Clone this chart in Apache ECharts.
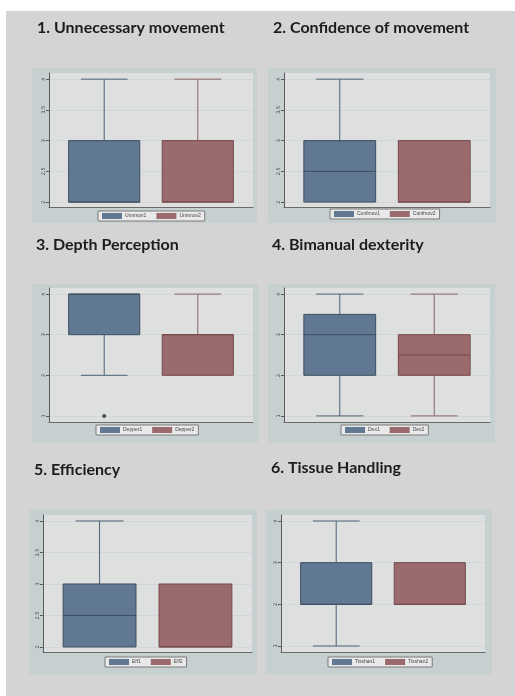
<!DOCTYPE html>
<html>
<head>
<meta charset="utf-8">
<script src="https://cdn.jsdelivr.net/npm/echarts@6/dist/echarts.min.js"></script>
<style>
  html, body { margin: 0; padding: 0; background: #fff; }
  #main { width: 515px; height: 696px; }
</style>
</head>
<body>
<div id="main"></div>
<script>
// panel titles
var titles = ['1. Unnecessary movement', '2. Confidence of movement', '3. Depth Perception',
  '4. Bimanual dexterity', '5. Efficiency', '6. Tissue Handling']
// legend names, two variables per panel
var names = [['Unnmov1', 'Unnmov2'], ['Confmov1', 'Confmov2'], ['Depper1', 'Depper2'],
  ['Dex1', 'Dex2'], ['Eff1', 'Eff2'], ['Tisshan1', 'Tisshan2']]
// box stats: [x, min, Q1, median, Q3, max]
var boxes1 = [[1, 2, 2, 2, 3, 4], [1, 2, 2, 2.5, 3, 4], [1, 2, 3, 4, 4, 4],
  [1, 1, 2, 3, 3.5, 4], [1, 2, 2, 2.5, 3, 4], [1, 1, 2, 2, 3, 4]]
var boxes2 = [[2, 2, 2, 2, 3, 4], [2, 2, 2, 2, 3, 3], [2, 2, 2, 3, 3, 4],
  [2, 1, 2, 2.5, 3, 4], [2, 2, 2, 2, 3, 3], [2, 2, 2, 2, 3, 3]]
// outside values (panel index, x, y)
var outliers = [[2, 1, 1]]
// y tick labels per panel
var ticksHalf = [2, 2.5, 3, 3.5, 4]
var ticksOne = [1, 2, 3, 4]
var yTicks = [ticksHalf, ticksHalf, ticksOne, ticksOne, ticksHalf, ticksOne]
var yMin = [1.92, 1.92, 0.85, 0.85, 1.92, 0.856]
var yMax = [4.1, 4.1, 4.15, 4.15, 4.095, 4.144]

// layout of each panel
var grids = [
  {left: 49, top: 73, width: 204, height: 134},
  {left: 284, top: 73, width: 206, height: 134},
  {left: 49, top: 288, width: 204, height: 134},
  {left: 284, top: 288, width: 206, height: 134},
  {left: 43, top: 515, width: 209, height: 137},
  {left: 281, top: 515, width: 204, height: 137}
]
var frames = [[32, 68, 225, 155], [268, 68, 228, 155], [32, 284, 226, 159],
  [268, 284, 227, 159], [29, 510, 228, 165], [266, 510, 226, 164]]
var titlePos = [[37, 20], [273, 20], [36, 237], [272, 237], [34, 462], [271, 460]]
var legendPos = [[98, 211], [330, 209], [96, 425], [341, 425], [105, 657], [328, 657]]

var blue = {fill: '#607891', line: '#4c6276', med: '#3d4f60'}
var red = {fill: '#9b6a6c', line: '#8a6466', med: '#74494c'}

var chart = echarts.init(document.getElementById('main'), null, {renderer: 'canvas'})

function boxRender(col) {
  return function (params, api) {
    var x = api.value(0)
    var half = api.size([0.38, 0])[0]
    var cap = api.size([0.25, 0])[0]
    var pMin = api.coord([x, api.value(1)])
    var pQ1 = api.coord([x, api.value(2)])
    var pMed = api.coord([x, api.value(3)])
    var pQ3 = api.coord([x, api.value(4)])
    var pMax = api.coord([x, api.value(5)])
    var cx = pMin[0]
    var lineStyle = {stroke: col.line, lineWidth: 1}
    var children = []
    if (pMax[1] < pQ3[1]) {
      children.push({type: 'line', shape: {x1: cx, y1: pQ3[1], x2: cx, y2: pMax[1]}, style: lineStyle})
      children.push({type: 'line', shape: {x1: cx - cap, y1: pMax[1], x2: cx + cap, y2: pMax[1]}, style: lineStyle})
    }
    if (pMin[1] > pQ1[1]) {
      children.push({type: 'line', shape: {x1: cx, y1: pQ1[1], x2: cx, y2: pMin[1]}, style: lineStyle})
      children.push({type: 'line', shape: {x1: cx - cap, y1: pMin[1], x2: cx + cap, y2: pMin[1]}, style: lineStyle})
    }
    children.push({
      type: 'rect',
      shape: {x: cx - half, y: pQ3[1], width: half * 2, height: pQ1[1] - pQ3[1]},
      style: {fill: col.fill, stroke: col.med, lineWidth: 1}
    })
    children.push({type: 'line', shape: {x1: cx - half, y1: pMed[1], x2: cx + half, y2: pMed[1]},
      style: {stroke: col.med, lineWidth: 1}})
    return {type: 'group', children: children}
  }
}

var option = {
  backgroundColor: '#ffffff',
  animation: false,
  graphic: [],
  title: [],
  legend: [],
  grid: [],
  xAxis: [],
  yAxis: [],
  series: []
}

// page background
option.graphic.push({type: 'rect', z: -20, shape: {x: 6, y: 11, width: 515, height: 700},
  style: {fill: '#d4d4d4'}, silent: true})

for (let i = 0; i < 6; i++) {
  let f = frames[i]
  option.graphic.push({type: 'rect', z: -10, shape: {x: f[0], y: f[1], width: f[2], height: f[3]},
    style: {fill: '#c7d0d0'}, silent: true})
  option.title.push({
    text: titles[i],
    left: titlePos[i][0],
    top: titlePos[i][1],
    padding: 0,
    textStyle: {fontFamily: 'Lato', fontWeight: 'bold', fontSize: 16, color: '#1c1c1c'}
  })
  option.grid.push(Object.assign({show: true, backgroundColor: '#dedfdf', borderWidth: 0}, grids[i]))
  option.xAxis.push({
    type: 'value', gridIndex: i, min: 0.41, max: 2.59,
    axisLine: {show: true, lineStyle: {color: '#6a6a6a', width: 1}},
    axisTick: {show: false}, axisLabel: {show: false}, splitLine: {show: false}
  })
  option.yAxis.push({
    type: 'value', gridIndex: i, min: yMin[i], max: yMax[i],
    axisLine: {show: true, lineStyle: {color: '#5a5a5a', width: 1}},
    axisTick: {show: true, length: 3, customValues: yTicks[i], lineStyle: {color: '#5a5a5a'}},
    axisLabel: {customValues: yTicks[i], rotate: 90, fontSize: 5, color: '#444', margin: 3,
      fontFamily: 'DejaVu Sans'},
    splitLine: {show: true, lineStyle: {color: '#d2d6d6', width: 1}}
  })
  option.legend.push({
    data: names[i],
    left: legendPos[i][0],
    top: legendPos[i][1],
    orient: 'horizontal',
    icon: 'rect',
    itemWidth: 20,
    itemHeight: 6,
    itemGap: 10,
    padding: [2, 4],
    backgroundColor: '#e9e9e9',
    borderColor: '#7a7a7a',
    borderWidth: 1,
    selectedMode: false,
    textStyle: {fontSize: 5, color: '#444', padding: [0, 0, 0, -2]}
  })
  option.series.push({
    name: names[i][0], type: 'custom', xAxisIndex: i, yAxisIndex: i,
    itemStyle: {color: blue.fill},
    renderItem: boxRender(blue),
    data: [boxes1[i]]
  })
  option.series.push({
    name: names[i][1], type: 'custom', xAxisIndex: i, yAxisIndex: i,
    itemStyle: {color: red.fill},
    renderItem: boxRender(red),
    data: [boxes2[i]]
  })
}

outliers.forEach(function (o) {
  option.series.push({
    name: 'outside', type: 'scatter', xAxisIndex: o[0], yAxisIndex: o[0],
    symbolSize: 4, itemStyle: {color: '#1e2a36'},
    data: [[o[1], o[2]]]
  })
})

chart.setOption(option)
</script>
</body>
</html>
